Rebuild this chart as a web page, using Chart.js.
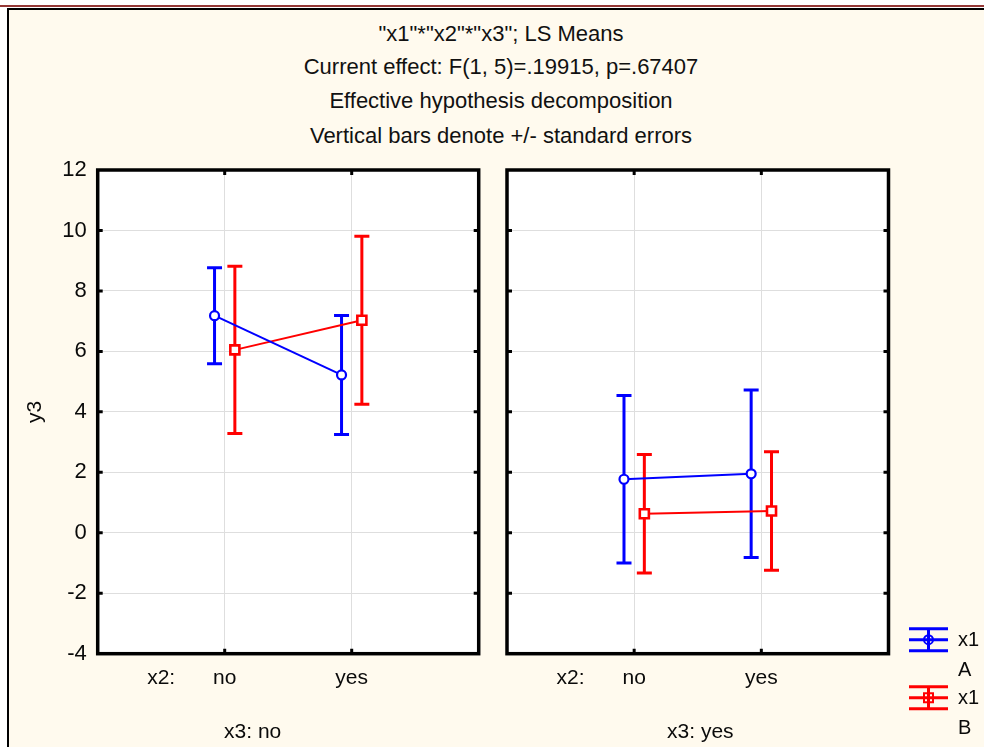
<!DOCTYPE html>
<html>
<head>
<meta charset="utf-8">
<title>LS Means x1*x2*x3</title>
<script src="https://cdn.jsdelivr.net/npm/chart.js@4.4.1/dist/chart.umd.min.js"></script>
<style>
  html, body { margin: 0; padding: 0; background: #fff; }
  body { position: relative; width: 984px; height: 747px; overflow: hidden; font-family: "Liberation Sans", Arial, sans-serif; }
  .topline { position: absolute; left: 0; top: 5px; width: 984px; height: 2px; background: #953735; }
  .frame { position: absolute; left: 7px; top: 8px; width: 1000px; height: 800px; border-left: 2px solid #000; border-top: 2px solid #000; background: #fffaee; }
  .title { position: absolute; left: 0; width: 1002px; text-align: center; font-size: 22px; line-height: 22px; color: #111; white-space: nowrap; }
  canvas { position: absolute; top: 0; }
  #left { left: 0; }
  #right { left: 492px; }
</style>
</head>
<body>
<div class="topline"></div>
<div class="frame"></div>
<div class="title" style="top:23px">"x1"*"x2"*"x3"; LS Means</div>
<div class="title" style="top:56px">Current effect: F(1, 5)=.19915, p=.67407</div>
<div class="title" style="top:90px">Effective hypothesis decomposition</div>
<div class="title" style="top:125px">Vertical bars denote +/- standard errors</div>
<canvas id="left" width="492" height="747"></canvas>
<canvas id="right" width="492" height="747"></canvas>
<script>
const x1Levels = ['A', 'B'];
const x2Levels = ['no', 'yes'];
const x3Levels = ['no', 'yes'];

// LS means and standard errors, ordered by x2 (no, yes)
const meanA_x3no = [7.18, 5.22];
const seA_x3no = [1.59, 1.97];
const meanB_x3no = [6.05, 7.03];
const seB_x3no = [2.77, 2.78];

const meanA_x3yes = [1.77, 1.95];
const seA_x3yes = [2.77, 2.77];
const meanB_x3yes = [0.63, 0.72];
const seB_x3yes = [1.96, 1.96];

const yMin = -4;
const yMax = 12;
const yStep = 2;

const FONT = '"Liberation Sans", Arial, sans-serif';
const INK = '#0a0a0a';
const GRID = '#dedede';
const BLUE = '#0000ff';
const RED = '#ff0000';

// the two x1 series sit slightly left/right of each x2 category
const dodge = 0.08;

function series(level, means, se, color, style, offset) {
  return {
    label: 'x1 ' + level,
    data: means.map((m, i) => ({ x: i + 1 + offset, y: m })),
    se: se,
    borderColor: color,
    borderWidth: 2,
    pointStyle: style,
    pointRadius: style === 'rect' ? 6.4 : 4.5,
    pointBorderWidth: style === 'rect' ? 2.6 : 2.2,
    pointBackgroundColor: '#fff',
    pointBorderColor: color,
    tension: 0,
    fill: false
  };
}

// vertical +/- SE bars with caps, drawn under the lines and markers
const errorBars = {
  id: 'errorBars',
  beforeDatasetsDraw(chart) {
    const ctx = chart.ctx;
    const y = chart.scales.y;
    chart.data.datasets.forEach((ds, i) => {
      const meta = chart.getDatasetMeta(i);
      ctx.save();
      ctx.strokeStyle = ds.borderColor;
      ctx.lineWidth = 3;
      meta.data.forEach((pt, j) => {
        const v = ds.data[j].y;
        const top = y.getPixelForValue(v + ds.se[j]);
        const bot = y.getPixelForValue(v - ds.se[j]);
        ctx.beginPath();
        ctx.moveTo(pt.x, top);
        ctx.lineTo(pt.x, bot);
        ctx.moveTo(pt.x - 7.5, top);
        ctx.lineTo(pt.x + 7.5, top);
        ctx.moveTo(pt.x - 7.5, bot);
        ctx.lineTo(pt.x + 7.5, bot);
        ctx.stroke();
      });
      ctx.restore();
    });
  }
};

// white plot area, heavy frame with inward tick marks, panel caption, legend
const panelDecor = {
  id: 'panelDecor',
  beforeDraw(chart) {
    const a = chart.chartArea;
    chart.ctx.save();
    chart.ctx.fillStyle = '#fff';
    chart.ctx.fillRect(a.left, a.top, a.right - a.left, a.bottom - a.top);
    chart.ctx.restore();
  },
  afterDraw(chart, args, opts) {
    const ctx = chart.ctx;
    const a = chart.chartArea;
    const x = chart.scales.x;
    const y = chart.scales.y;
    ctx.save();
    ctx.strokeStyle = '#000';
    ctx.lineWidth = 3.5;
    ctx.strokeRect(a.left, a.top, a.right - a.left, a.bottom - a.top);

    ctx.lineWidth = 3;
    ctx.beginPath();
    y.ticks.forEach(t => {
      if (t.value <= yMin || t.value >= yMax) return;
      const py = y.getPixelForValue(t.value);
      ctx.moveTo(a.left, py); ctx.lineTo(a.left + 5, py);
      ctx.moveTo(a.right, py); ctx.lineTo(a.right - 5, py);
    });
    x2Levels.forEach((lv, i) => {
      const px = x.getPixelForValue(i + 1);
      ctx.moveTo(px, a.top); ctx.lineTo(px, a.top + 5);
      ctx.moveTo(px, a.bottom); ctx.lineTo(px, a.bottom - 5);
    });
    ctx.stroke();

    ctx.fillStyle = INK;
    ctx.font = '21px ' + FONT;
    ctx.textAlign = 'center';
    ctx.textBaseline = 'alphabetic';
    ctx.fillText(opts.caption, x.getPixelForValue(opts.captionAt), a.bottom + 84);

    if (opts.legend) {
      const x0 = a.right + 20.5;
      const x1 = a.right + 59.5;
      const xc = (x0 + x1) / 2;
      chart.data.datasets.forEach((ds, i) => {
        const cy = a.bottom - 14 + i * 58;
        ctx.strokeStyle = ds.borderColor;
        ctx.lineWidth = 3;
        ctx.beginPath();
        [-11, 0, 11].forEach(d => { ctx.moveTo(x0, cy + d); ctx.lineTo(x1, cy + d); });
        ctx.moveTo(xc, cy - 11); ctx.lineTo(xc, cy + 11);
        ctx.stroke();
        ctx.lineWidth = 2;
        ctx.beginPath();
        if (ds.pointStyle === 'rect') ctx.rect(xc - 4.5, cy - 4.5, 9, 9);
        else ctx.arc(xc, cy, 4.5, 0, Math.PI * 2);
        ctx.stroke();
        ctx.fillStyle = INK;
        ctx.font = '20px ' + FONT;
        ctx.textAlign = 'left';
        ctx.textBaseline = 'middle';
        ctx.fillText('x1', x1 + 10, cy + 1);
        ctx.fillText(x1Levels[i], x1 + 10, cy + 31);
      });
    }
    ctx.restore();
  }
};

function panel(canvasId, datasets, opts) {
  return new Chart(document.getElementById(canvasId), {
    type: 'line',
    data: { datasets: datasets },
    options: {
      responsive: false,
      animation: false,
      events: [],
      layout: { padding: { top: 170, left: 0, right: opts.padRight, bottom: 0 } },
      plugins: {
        legend: { display: false },
        tooltip: { enabled: false },
        panelDecor: { caption: opts.caption, captionAt: opts.captionAt, legend: opts.legend }
      },
      scales: {
        x: {
          type: 'linear',
          min: 0,
          max: 3,
          afterBuildTicks: s => { s.ticks = [{ value: 0.5 }, { value: 1 }, { value: 2 }]; },
          afterFit: s => { s.height = 93.3; },
          ticks: {
            autoSkip: false,
            maxRotation: 0,
            padding: 12,
            color: INK,
            font: { family: FONT, size: 21 },
            callback: v => v === 0.5 ? 'x2:' : x2Levels[v - 1]
          },
          grid: {
            drawTicks: false,
            color: c => (c.tick && c.tick.value === 0.5) ? 'rgba(0,0,0,0)' : GRID
          },
          border: { display: false }
        },
        y: {
          min: yMin,
          max: yMax,
          afterFit: s => { s.width = opts.yWidth; },
          ticks: {
            display: opts.showY,
            stepSize: yStep,
            padding: 11,
            color: INK,
            font: { family: FONT, size: 22 }
          },
          title: {
            display: opts.showY,
            text: 'y3',
            color: INK,
            font: { family: FONT, size: 21 },
            padding: { top: 23, bottom: 0 }
          },
          grid: { drawTicks: false, color: GRID },
          border: { display: false }
        }
      }
    },
    plugins: [errorBars, panelDecor]
  });
}

panel('left', [
  series(x1Levels[0], meanA_x3no, seA_x3no, BLUE, 'circle', -dodge),
  series(x1Levels[1], meanB_x3no, seB_x3no, RED, 'rect', dodge)
], { padRight: 13.3, yWidth: 97.7, showY: true, caption: 'x3: ' + x3Levels[0], captionAt: 1.22, legend: false });

panel('right', [
  series(x1Levels[0], meanA_x3yes, seA_x3yes, BLUE, 'circle', -dodge),
  series(x1Levels[1], meanB_x3yes, seB_x3yes, RED, 'rect', dodge)
], { padRight: 95.5, yWidth: 15, showY: false, caption: 'x3: ' + x3Levels[1], captionAt: 1.52, legend: true });
</script>
</body>
</html>
